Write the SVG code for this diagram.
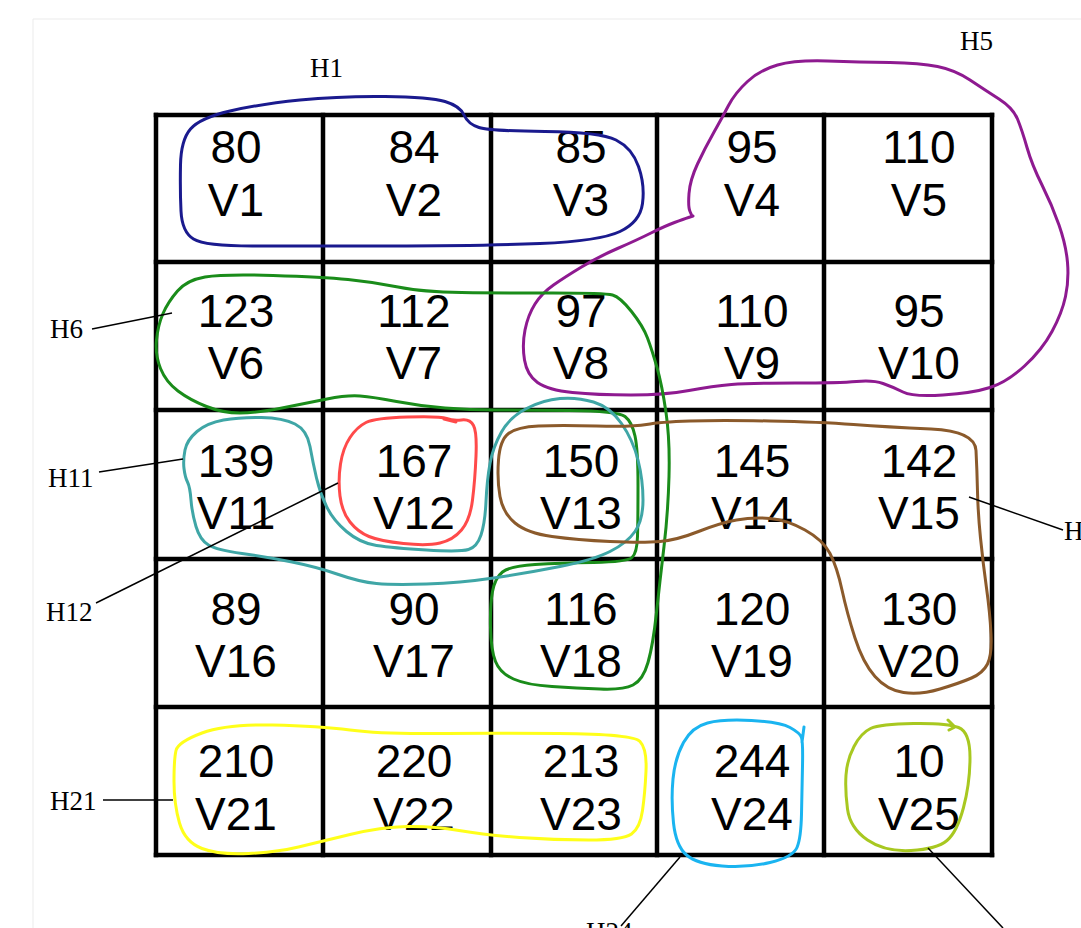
<svg xmlns="http://www.w3.org/2000/svg" width="1081" height="928" viewBox="0 0 1081 928">
<style>
.cell text{font-family:"Liberation Sans",Arial,sans-serif;font-size:46px;fill:#000;text-anchor:middle}
.lbl{font-family:"Liberation Serif","Times New Roman",serif;font-size:27px;fill:#000}
.grid line{stroke:#000;stroke-width:4.5;stroke-linecap:square}
.ptr line{stroke:#000;stroke-width:1.5}
.blob{fill:none;stroke-width:3;stroke-linejoin:round;stroke-linecap:round}
</style>
<rect width="1081" height="928" fill="#fff"/>
<g id="page">
<line x1="33" y1="19" x2="33" y2="928" stroke="#ebebeb" stroke-width="1"/>
<line x1="33" y1="19" x2="1081" y2="19" stroke="#ebebeb" stroke-width="1"/>
</g>
<g id="grid" class="grid">
<line x1="156" y1="115" x2="156" y2="855"/>
<line x1="323" y1="115" x2="323" y2="855"/>
<line x1="491" y1="115" x2="491" y2="855"/>
<line x1="657" y1="115" x2="657" y2="855"/>
<line x1="824" y1="115" x2="824" y2="855"/>
<line x1="992" y1="115" x2="992" y2="855"/>
<line x1="156" y1="115" x2="992" y2="115"/>
<line x1="156" y1="262" x2="992" y2="262"/>
<line x1="156" y1="410" x2="992" y2="410"/>
<line x1="156" y1="559" x2="992" y2="559"/>
<line x1="156" y1="707" x2="992" y2="707"/>
<line x1="156" y1="855" x2="992" y2="855"/>
</g>
<g id="V1" class="cell"><text x="236" y="163">80</text><text x="236" y="216">V1</text></g>
<g id="V2" class="cell"><text x="414" y="163">84</text><text x="414" y="216">V2</text></g>
<g id="V3" class="cell"><text x="581" y="163">85</text><text x="581" y="216">V3</text></g>
<g id="V4" class="cell"><text x="752" y="163">95</text><text x="752" y="216">V4</text></g>
<g id="V5" class="cell"><text x="919" y="163">110</text><text x="919" y="216">V5</text></g>
<g id="V6" class="cell"><text x="236" y="327">123</text><text x="236" y="379">V6</text></g>
<g id="V7" class="cell"><text x="414" y="327">112</text><text x="414" y="379">V7</text></g>
<g id="V8" class="cell"><text x="581" y="327">97</text><text x="581" y="379">V8</text></g>
<g id="V9" class="cell"><text x="752" y="327">110</text><text x="752" y="379">V9</text></g>
<g id="V10" class="cell"><text x="919" y="327">95</text><text x="919" y="379">V10</text></g>
<g id="V11" class="cell"><text x="236" y="477">139</text><text x="236" y="529">V11</text></g>
<g id="V12" class="cell"><text x="414" y="477">167</text><text x="414" y="529">V12</text></g>
<g id="V13" class="cell"><text x="581" y="477">150</text><text x="581" y="529">V13</text></g>
<g id="V14" class="cell"><text x="752" y="477">145</text><text x="752" y="529">V14</text></g>
<g id="V15" class="cell"><text x="919" y="477">142</text><text x="919" y="529">V15</text></g>
<g id="V16" class="cell"><text x="236" y="625">89</text><text x="236" y="677">V16</text></g>
<g id="V17" class="cell"><text x="414" y="625">90</text><text x="414" y="677">V17</text></g>
<g id="V18" class="cell"><text x="581" y="625">116</text><text x="581" y="677">V18</text></g>
<g id="V19" class="cell"><text x="752" y="625">120</text><text x="752" y="677">V19</text></g>
<g id="V20" class="cell"><text x="919" y="625">130</text><text x="919" y="677">V20</text></g>
<g id="V21" class="cell"><text x="236" y="777">210</text><text x="236" y="830">V21</text></g>
<g id="V22" class="cell"><text x="414" y="777">220</text><text x="414" y="830">V22</text></g>
<g id="V23" class="cell"><text x="581" y="777">213</text><text x="581" y="830">V23</text></g>
<g id="V24" class="cell"><text x="752" y="777">244</text><text x="752" y="830">V24</text></g>
<g id="V25" class="cell"><text x="919" y="777">10</text><text x="919" y="830">V25</text></g>
<g id="H1">
<path class="blob" stroke="#1a1a8e" d="M181,211 Q180,190 180.5,165 Q181,140 190.5,129 Q200,118 230,111 Q260,104 300,100 Q340,96 385,96.5 Q430,97 445,101.5 Q460,106 464,115 Q468,124 479,127.5 Q490,131 545,131.5 Q600,132 616,140 Q632,148 638.5,166.5 Q645,185 642.5,203.5 Q640,222 620,231.5 Q600,241 540,243.5 Q480,246 390,246 Q300,246 252.5,246 Q205,246 193.5,239 Q182,232 181,211 Z"/>
<text class="lbl" x="310" y="77">H1</text>
</g>
<g id="H5">
<path class="blob" stroke="#8e1a90" d="M692,216 L690,211.5 Q688,207 689,193.5 Q690,180 697.5,164 Q705,148 713.5,133 Q722,118 728.5,105.5 Q735,93 747.5,81.5 Q760,70 777.5,65 Q795,60 827.5,61 Q860,62 890,62.5 Q920,63 937.5,66.5 Q955,70 970,80 Q985,90 999,99 Q1013,108 1017.5,119 Q1022,130 1027,147.5 Q1032,165 1042,185 Q1052,205 1059,225 Q1066,245 1067.5,262.5 Q1069,280 1065.5,296.5 Q1062,313 1052,331.5 Q1042,350 1024.5,366 Q1007,382 990,387.5 Q973,393 943,395 Q913,397 903,392 Q893,387 883,383.5 Q873,380 856.5,381.5 Q840,383 795,383 Q750,383 731.5,384.5 Q713,386 689,390.5 Q665,395 631,395 Q597,395 572.5,392.5 Q548,390 537.5,382.5 Q527,375 524.5,360 Q522,345 525,330 Q528,315 535,304 Q542,293 553.5,285 Q565,277 581.5,267 Q598,257 617.5,248.5 Q637,240 651,233 Q665,226 674.5,222.5 Q684,219 688.5,217.5 L693,216"/>
<text class="lbl" x="960" y="50">H5</text>
</g>
<g id="H6">
<path class="blob" stroke="#1a8c1a" d="M177.5,291 Q187,280 205,277 Q223,274 273,275.5 Q323,277 348,279.5 Q373,282 398,287 Q423,292 461.5,292.5 Q500,293 552.5,293 Q605,293 612.5,295 Q620,297 631.5,311.5 Q643,326 647.5,338 Q652,350 657,367.5 Q662,385 666,412.5 Q670,440 669,476.5 Q668,513 664,546.5 Q660,580 656.5,612.5 Q653,645 648,662.5 Q643,680 633,685 Q623,690 600,689 Q577,688 552,686.5 Q527,685 513.5,679 Q500,673 495.5,661.5 Q491,650 490.5,627.5 Q490,605 492.5,591.5 Q495,578 502.5,572 Q510,566 535,564.5 Q560,563 593.5,562.5 Q627,562 632,557.5 Q637,553 637.5,536.5 Q638,520 638,485 Q638,450 635,436 Q632,422 625,416.5 Q618,411 569,410.5 Q520,410 495,410 Q470,410 445,408 Q420,406 396.5,401.5 Q373,397 360,396 Q347,395 327,399 Q307,403 282,408 Q257,413 240,413 Q223,413 206.5,406.5 Q190,400 178,391 Q166,382 160.5,368.5 Q155,355 156.5,340 Q158,325 163,313.5 Q168,302 177.5,291 Z"/>
<text class="lbl" x="50" y="338">H6</text>
</g>
<g id="H11">
<path class="blob" stroke="#3fa6a6" d="M185,450 Q187,440 197,431.5 Q207,423 223.5,420 Q240,417 261.5,417.5 Q283,418 295,424 Q307,430 310,446.5 Q313,463 316.5,478 Q320,493 326.5,506.5 Q333,520 346.5,531.5 Q360,543 376.5,545.5 Q393,548 426.5,550 Q460,552 468.5,549.5 Q477,547 481,535 Q485,523 486,501.5 Q487,480 490,463.5 Q493,447 501.5,432 Q510,417 526.5,408.5 Q543,400 560,398.5 Q577,397 593.5,402 Q610,407 621.5,423.5 Q633,440 638,460 Q643,480 643,500 Q643,520 635,531.5 Q627,543 610,551.5 Q593,560 560,566.5 Q527,573 493.5,578 Q460,583 426.5,584 Q393,585 376.5,583.5 Q360,582 338.5,574.5 Q317,567 292,562 Q267,557 242,553.5 Q217,550 208.5,545 Q200,540 196,526.5 Q192,513 191,500 Q190,487 187.5,482 Q185,477 184,468.5 Q183,460 185,450 Z"/>
<text class="lbl" x="48" y="487">H11</text>
</g>
<g id="H12">
<path class="blob" stroke="#ff4a4a" d="M446.5,418.5 Q453,421 461.5,420 Q470,419 473.5,425.5 Q477,432 476,456 Q475,480 472.5,500 Q470,520 461.5,530 Q453,540 440,543 Q427,546 403.5,543.5 Q380,541 369,536.5 Q358,532 350,522 Q342,512 340,496 Q338,480 340.5,464 Q343,448 350,437.5 Q357,427 366,422.5 Q375,418 407.5,417 Q440,416 446.5,418.5 Z"/>
<path class="blob" stroke="#ff4a4a" stroke-width="4" d="M444,419 L456,422"/>
<text class="lbl" x="46" y="621">H12</text>
</g>
<g id="H15">
<path class="blob" stroke="#8b5a2b" d="M596.5,426 Q633,427 646.5,424.5 Q660,422 690,421 Q720,420 770,421 Q820,422 853.5,424.5 Q887,427 931,429 Q975,431 976,450.5 Q977,470 977.5,491.5 Q978,513 980.5,538 Q983,563 986.5,588 Q990,613 991,634 Q992,655 987.5,664 Q983,673 971.5,678 Q960,683 940,689 Q920,695 903.5,692.5 Q887,690 875,676.5 Q863,663 855,638 Q847,613 842,590 Q837,567 830,553.5 Q823,540 805,530 Q787,520 770,518.5 Q753,517 736.5,520 Q720,523 698.5,531.5 Q677,540 660,541.5 Q643,543 610,541.5 Q577,540 552,536.5 Q527,533 515,523 Q503,513 500,496.5 Q497,480 498.5,460 Q500,440 508.5,433.5 Q517,427 538.5,426 Q560,425 596.5,426 Z"/>
<text class="lbl" x="1064" y="540">H</text>
</g>
<g id="H21">
<path class="blob" stroke="#ffff1a" d="M176,750.5 Q178,742 202,733 Q226,724 272.5,725 Q319,726 350,730 Q381,734 433,733.5 Q485,733 559,733.5 Q633,734 640,741.5 Q647,749 646,771 Q645,793 642.5,810.5 Q640,828 631.5,834 Q623,840 588.5,840 Q554,840 519.5,837.5 Q485,835 459,830.5 Q433,826 407,826.5 Q381,827 350,834.5 Q319,842 298.5,847 Q278,852 248.5,853.5 Q219,855 202,848.5 Q185,842 179.5,823 Q174,804 174,781.5 Q174,759 176,750.5 Z"/>
<text class="lbl" x="50" y="810">H21</text>
</g>
<g id="H24">
<path class="blob" stroke="#1ab4f0" d="M801.5,737.5 Q803,742 802.5,766 Q802,790 801.5,814 Q801,838 797,847.5 Q793,857 770,862.5 Q747,868 722,866 Q697,864 686.5,855 Q676,846 673.5,823 Q671,800 673,779 Q675,758 683.5,742.5 Q692,727 707.5,723 Q723,719 751.5,720.5 Q780,722 790,727.5 Q800,733 801.5,737.5 Z M802,742 L804,727"/>
<text class="lbl" x="586" y="941">H24</text>
</g>
<g id="H25">
<path class="blob" stroke="#a8c820" d="M958.5,727.5 Q970,732 970,757.5 Q970,783 963.5,807.5 Q957,832 947,840.5 Q937,849 911,850.5 Q885,852 867.5,840 Q850,828 847.5,809 Q845,790 846,775 Q847,760 854,746.5 Q861,733 870.5,728.5 Q880,724 913.5,723.5 Q947,723 958.5,727.5 Z M948,720 L955,727 L949,730"/>
</g>
<g id="connectors" class="ptr">
<line x1="92" y1="329" x2="172" y2="313"/>
<line x1="99" y1="472" x2="183" y2="459"/>
<line x1="96" y1="603" x2="338" y2="483"/>
<line x1="103" y1="800" x2="173" y2="800"/>
<line x1="969" y1="497" x2="1063" y2="530"/>
<line x1="680" y1="857" x2="621" y2="926"/>
<line x1="928" y1="848" x2="1003" y2="928"/>
</g>
</svg>
